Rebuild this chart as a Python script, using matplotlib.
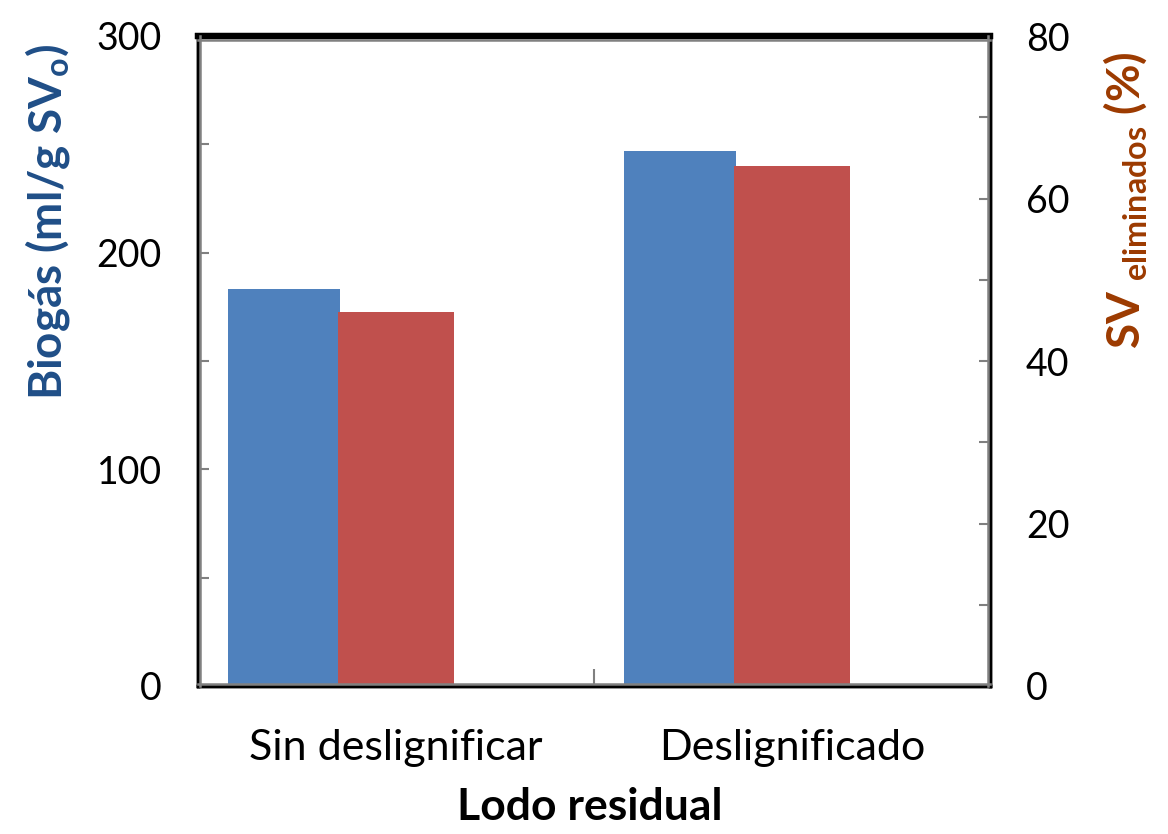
import matplotlib
matplotlib.use("Agg")
import matplotlib.pyplot as plt
import matplotlib.transforms as mtransforms
import numpy as np

# Data
categories = ["Sin deslignificar", "Deslignificado"]
biogas = [183, 247]           # ml/g SVo (left axis)
sv_eliminados = [46, 64]      # % (right axis)

blue = "#4F81BD"
red = "#C0504D"
blue_label = "#1F4E87"
red_label = "#9C3A00"

plt.rcParams["font.family"] = ["Lato", "DejaVu Sans"]
plt.rcParams["mathtext.fontset"] = "custom"
plt.rcParams["mathtext.rm"] = "Lato"
plt.rcParams["mathtext.bf"] = "Lato:bold"
plt.rcParams["mathtext.it"] = "Lato:italic"

fig = plt.figure(figsize=(11.68, 8.34), dpi=100)
ax = fig.add_axes([198 / 1168, 1 - 686 / 834, 792 / 1168, 650 / 834])
ax2 = ax.twinx()

x = np.arange(len(categories)) + 0.5
ax.bar(x - 0.282, biogas, width=0.283, color=blue, zorder=2)
ax2.bar(x, sv_eliminados, width=0.295, color=red, zorder=2)

ax.set_xlim(0, 2)
ax.set_ylim(0, 300)
ax2.set_ylim(0, 80)

# Left axis ticks
ax.set_yticks([0, 100, 200, 300])
ax.set_yticks([50, 150, 250], minor=True)
ax.tick_params(axis="y", which="both", direction="in", length=8, width=1.5,
               color="#808080", labelsize=27, pad=26)
# Right axis ticks
ax2.set_yticks([0, 20, 40, 60, 80])
ax2.set_yticks([10, 30, 50, 70], minor=True)
ax2.tick_params(axis="y", which="both", direction="in", length=8, width=1.5,
                color="#808080", labelsize=27, pad=26)

# Category axis: labels at bar groups, single divider tick in the middle
ax.set_xticks(x)
ax.set_xticklabels(categories)
ax.tick_params(axis="x", which="major", length=0, labelsize=31, pad=31)
ax.set_xticks([1.0], minor=True)
ax.tick_params(axis="x", which="minor", direction="in", length=12, width=1.5,
               color="#808080")

for a in (ax, ax2):
    for side in ("left", "right", "bottom"):
        a.spines[side].set_color("black")
        a.spines[side].set_linewidth(2.5)
    a.spines["top"].set_color("black")
    a.spines["top"].set_linewidth(4.5)

# Inner grey edge of the frame
def px_offset(dx, dy):
    return ax.transAxes + mtransforms.ScaledTranslation(dx / 100, dy / 100, fig.dpi_scale_trans)

gkw = dict(color="#808080", lw=1.8, clip_on=False, zorder=5)
ax2.plot([0, 0], [0, 1], transform=px_offset(2.5, 0), **gkw)
ax2.plot([1, 1], [0, 1], transform=px_offset(-2.5, 0), **gkw)
ax2.plot([0, 1], [0, 0], transform=px_offset(0, 2.5), **gkw)
ax2.plot([0, 1], [1, 1], transform=px_offset(0, -3.5), **gkw)

# Axis titles
fig.text(48 / 1168, 1 - 222 / 834, r"Biogás (ml/g SV$_\mathbf{o}$)",
         rotation=90, ha="center", va="center", fontsize=33,
         fontweight="bold", color=blue_label)
fig.text(1125 / 1168, 1 - 200 / 834, r"SV $_{\mathbf{eliminados}}$ (%)",
         rotation=90, ha="center", va="center", fontsize=33,
         fontweight="bold", color=red_label)
fig.text(590 / 1168, 1 - 820 / 834, "Lodo residual", ha="center", va="baseline",
         fontsize=32, fontweight="bold", color="black")

fig.savefig("out.png", dpi=100)
